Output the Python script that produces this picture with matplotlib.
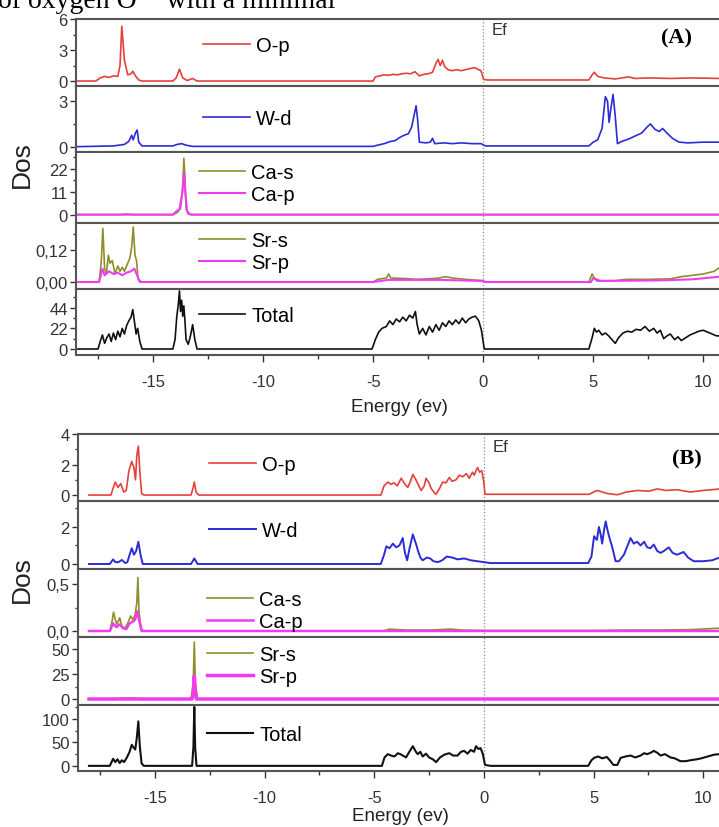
import matplotlib
matplotlib.use('Agg')
import matplotlib.pyplot as plt
from matplotlib.ticker import AutoMinorLocator, MultipleLocator

plt.rcParams['font.family'] = ['Liberation Sans', 'DejaVu Sans']
plt.rcParams['axes.unicode_minus'] = False

# ---------------- data (energy in eV, DOS) ----------------
# panel (A)
a_op_e = [-18.5, -17.6, -17.4, -17.2, -17.0, -16.8, -16.6, -16.5, -16.42, -16.3, -16.15, -16.0, -15.92, -15.8, -15.65, -15.5,
          -14.1, -13.95, -13.8, -13.65, -13.45, -13.2, -13.0,
          -5.0, -4.9, -4.7, -4.5, -4.3, -4.1, -3.9, -3.7, -3.5, -3.3, -3.1, -2.9, -2.7, -2.5, -2.3, -2.15, -2.05, -1.95,
          -1.85, -1.75, -1.6, -1.4, -1.2, -1.0, -0.8, -0.6, -0.4, -0.25, -0.1, 0.02, 0.2,
          4.8, 4.95, 5.05, 5.2, 5.5, 6.0, 6.3, 6.6, 6.9, 7.5, 8.5, 9.5, 10.75]
a_op_v = [0, 0, 0.3, 0.45, 0.35, 0.5, 0.45, 1.5, 5.3, 2.0, 0.6, 0.7, 0.95, 0.5, 0.1, 0,
          0, 0.3, 1.15, 0.3, 0.05, 0.25, 0,
          0, 0.4, 0.5, 0.6, 0.55, 0.65, 0.6, 0.7, 0.75, 0.7, 0.9, 0.5, 0.65, 0.7, 0.85, 1.7, 2.1, 1.5,
          2.0, 1.4, 1.1, 1.0, 1.1, 1.0, 1.1, 1.2, 1.3, 1.15, 1.0, 0.15, 0.1,
          0.1, 0.6, 0.85, 0.45, 0.3, 0.2, 0.3, 0.4, 0.25, 0.3, 0.25, 0.3, 0.25]

a_wd_e = [-18.5, -16.8, -16.3, -16.1, -15.97, -15.9, -15.8, -15.72, -15.65, -15.5, -14.1, -13.9, -13.7, -13.5, -13.2,
          -5.0, -4.8, -4.5, -4.2, -4.0, -3.8, -3.6, -3.4, -3.25, -3.12, -3.05, -2.98, -2.9, -2.6, -2.4, -2.3, -2.2,
          -1.8, -1.4, -1.0, -0.5, -0.1, 0.1,
          4.8, 5.0, 5.2, 5.4, 5.55, 5.65, 5.72, 5.8, 5.9, 6.0, 6.1, 6.3, 6.6, 6.9, 7.2, 7.45, 7.6, 7.8, 8.0, 8.15,
          8.35, 8.6, 8.9, 9.3, 10.0, 10.75]
a_wd_v = [0.0, 0.05, 0.15, 0.35, 0.75, 0.45, 0.9, 1.1, 0.3, 0.05, 0.05, 0.15, 0.2, 0.1, 0.02,
          0.02, 0.1, 0.2, 0.35, 0.4, 0.6, 0.75, 0.85, 1.3, 2.2, 2.7, 1.8, 0.3, 0.25, 0.3, 0.55, 0.2,
          0.25, 0.2, 0.25, 0.2, 0.2, 0.05,
          0.05, 0.3, 0.45, 1.2, 3.3, 3.0, 1.6, 2.5, 3.45, 2.0, 0.2, 0.35, 0.5, 0.7, 0.9, 1.3, 1.5, 1.15, 1.0, 1.2,
          0.9, 0.55, 0.3, 0.25, 0.3, 0.3]

a_cas_e = [-18.5, -16.5, -16.2, -15.9, -14.1, -13.9, -13.75, -13.65, -13.6, -13.55, -13.5, -13.4, -13.2, 10.75]
a_cas_v = [0, 0, 0.3, 0, 0, 1.0, 3.0, 12, 27, 18, 3, 0.3, 0, 0]
a_cap_e = [-18.5, -14.1, -13.95, -13.8, -13.68, -13.6, -13.53, -13.45, -13.3, 10.75]
a_cap_v = [0, 0, 1.5, 2.5, 10, 20, 10, 1.5, 0, 0]

a_srs_e = [-18.5, -17.45, -17.35, -17.28, -17.2, -17.12, -17.03, -16.95, -16.85, -16.73, -16.6, -16.5, -16.4, -16.3,
           -16.15, -16.05, -15.97, -15.9, -15.82, -15.75, -15.68, -15.5,
           -5.0, -4.8, -4.4, -4.3, -4.2, -3.5, -3.0, -2.5, -2.0, -1.7, -1.4, -0.8, 0.0, 0.1,
           4.8, 4.95, 5.05, 5.3, 6.0, 6.5, 7.5, 8.5, 9.0, 9.5, 10.0, 10.5, 10.75]
a_srs_v = [0, 0, 0.08, 0.2, 0.05, 0.03, 0.1, 0.07, 0.08, 0.03, 0.06, 0.04, 0.055, 0.04,
           0.07, 0.09, 0.13, 0.205, 0.1, 0.08, 0.01, 0,
           0, 0.01, 0.015, 0.03, 0.015, 0.013, 0.01, 0.012, 0.015, 0.02, 0.015, 0.01, 0.005, 0,
           0, 0.03, 0.015, 0.005, 0.005, 0.01, 0.01, 0.012, 0.02, 0.025, 0.03, 0.04, 0.055]
a_srp_e = [-18.5, -17.45, -17.3, -17.2, -17.0, -16.8, -16.6, -16.4, -16.2, -16.0, -15.85, -15.7, -15.6,
           -5.0, -4.3, -2.0, 0.0, 0.1, 4.9, 5.0, 5.2, 8.0, 9.5, 10.75]
a_srp_v = [0, 0, 0.05, 0.025, 0.04, 0.03, 0.035, 0.025, 0.035, 0.04, 0.05, 0.02, 0,
           0, 0.008, 0.008, 0.004, 0, 0, 0.015, 0.004, 0.006, 0.01, 0.02]

a_tot_e = [-18.5, -17.5, -17.4, -17.3, -17.2, -17.1, -17.0, -16.9, -16.8, -16.7, -16.6, -16.5, -16.4, -16.3, -16.2,
           -16.1, -16.0, -15.92, -15.85, -15.77, -15.7, -15.6, -15.5,
           -14.1, -14.0, -13.92, -13.85, -13.8, -13.75, -13.7, -13.65, -13.6, -13.55, -13.5, -13.4, -13.3, -13.2,
           -13.1, -13.0,
           -5.05, -4.9, -4.75, -4.6, -4.4, -4.25, -4.1, -3.95, -3.8, -3.65, -3.5, -3.35, -3.2, -3.08, -3.0, -2.9,
           -2.75, -2.6, -2.45, -2.3, -2.15, -2.0, -1.85, -1.7, -1.55, -1.4, -1.25, -1.1, -0.95, -0.8, -0.65, -0.5,
           -0.35, -0.2, -0.08, 0.05,
           4.8, 4.95, 5.05, 5.15, 5.25, 5.4, 5.55, 5.7, 5.85, 6.0, 6.15, 6.35, 6.55, 6.75, 6.95, 7.15, 7.35, 7.55,
           7.75, 7.9, 8.05, 8.2, 8.35, 8.5, 8.7, 8.85, 9.0, 9.2, 9.4, 9.6, 9.8, 10.0, 10.2, 10.4, 10.6, 10.75]
a_tot_v = [0, 0, 8, 15, 6, 12, 16, 8, 17, 10, 19, 13, 22, 16, 25,
           30, 34, 42, 30, 16, 22, 8, 0,
           0, 10, 35, 48, 62, 40, 52, 35, 46, 30, 10, 5, 14, 26,
           10, 0,
           0, 10, 18, 22, 24, 30, 26, 32, 29, 34, 30, 36, 33, 40, 26, 16,
           22, 15, 24, 18, 26, 20, 28, 24, 30, 26, 31, 27, 33, 28, 32, 34,
           35, 30, 20, 0,
           0, 12, 22, 18, 20, 15, 17, 14, 10, 6, 12, 17, 19, 18, 21, 20, 24, 19,
           22, 17, 20, 11, 14, 16, 10, 13, 9, 12, 15, 17, 19, 20, 18, 16, 14, 14]

# panel (B)
b_op_e = [-18.0, -17.0, -16.9, -16.8, -16.68, -16.55, -16.42, -16.3, -16.18, -16.05, -15.95, -15.88, -15.82, -15.75,
          -15.68, -15.6, -15.5, -13.35, -13.25, -13.2, -13.12, -13.0,
          -4.7, -4.55, -4.38, -4.23, -4.1, -3.95, -3.77, -3.62, -3.47, -3.35, -3.24, -3.1, -2.95, -2.86, -2.72, -2.64,
          -2.5, -2.41, -2.26, -2.18, -2.0, -1.88, -1.73, -1.58, -1.45, -1.27, -1.12, -0.97, -0.8, -0.67, -0.52, -0.44,
          -0.36, -0.29, -0.2, -0.1, -0.02, 0.05,
          4.8, 5.0, 5.17, 5.4, 5.62, 6.08, 6.5, 7.0, 7.5, 7.9, 8.3, 8.8, 9.4, 10.0, 10.75]
b_op_v = [0, 0, 0.45, 0.85, 0.5, 0.75, 0.2, 0.3, 1.6, 2.2, 1.8, 1.0, 2.6, 3.2,
          1.5, 0.1, 0, 0, 0.5, 0.85, 0.2, 0,
          0, 0.6, 0.85, 0.7, 0.8, 0.6, 1.1, 0.75, 0.5, 0.9, 1.35, 1.0, 0.55, 0.3, 0.6, 1.1,
          0.8, 0.45, 0.15, 0.05, 0.5, 0.85, 0.8, 1.15, 0.9, 1.0, 1.3, 1.2, 1.4, 1.1, 1.5, 1.3,
          1.6, 1.8, 1.5, 1.6, 1.0, 0.05,
          0.05, 0.2, 0.3, 0.2, 0.1, 0.02, 0.2, 0.3, 0.25, 0.4, 0.3, 0.35, 0.2, 0.3, 0.4]

b_wd_e = [-18.0, -17.05, -16.9, -16.8, -16.65, -16.5, -16.35, -16.25, -16.12, -16.05, -15.95, -15.85, -15.75, -15.65,
          -15.55, -13.35, -13.2, -13.05,
          -4.7, -4.55, -4.45, -4.3, -4.15, -4.0, -3.85, -3.7, -3.6, -3.5, -3.38, -3.24, -3.1, -3.0, -2.9, -2.79,
          -2.6, -2.45, -2.3, -2.1, -1.9, -1.7, -1.45, -1.2, -0.9, -0.6, -0.3, 0.0, 0.3,
          4.75, 4.9, 5.02, 5.15, 5.24, 5.32, 5.39, 5.47, 5.55, 5.62, 5.7, 5.85, 6.0, 6.15, 6.38, 6.55, 6.68, 6.83,
          6.98, 7.14, 7.3, 7.44, 7.59, 7.74, 7.9, 8.05, 8.2, 8.42, 8.6, 8.8, 9.0, 9.1, 9.3, 9.56, 10.0, 10.4, 10.75]
b_wd_v = [0, 0, 0.25, 0.1, 0.1, 0.22, 0.05, 0.1, 0.6, 0.85, 0.5, 0.7, 1.2, 0.5,
          0, 0, 0.3, 0,
          0, 0.5, 0.95, 0.85, 1.1, 0.9, 1.0, 1.4, 0.6, 0.2, 0.9, 1.6, 1.1, 0.7, 0.35, 0.2,
          0.35, 0.3, 0.15, 0.1, 0.2, 0.4, 0.35, 0.25, 0.3, 0.2, 0.15, 0.1, 0.05,
          0.05, 0.4, 1.5, 1.3, 2.0, 1.6, 1.1, 1.8, 2.3, 1.9, 1.5, 0.9, 0.15, 0.15, 0.5, 1.0, 1.4, 1.1,
          1.2, 1.0, 1.2, 0.9, 0.85, 1.05, 0.7, 0.6, 0.7, 0.9, 0.6, 0.5, 0.6, 0.65, 0.35, 0.15, 0.15, 0.2, 0.35]

b_cas_e = [-18.0, -17.05, -16.95, -16.88, -16.8, -16.73, -16.6, -16.5, -16.35, -16.2, -16.1, -16.0, -15.9, -15.82,
           -15.77, -15.72, -15.62, -15.5,
           -4.6, -4.3, -4.0, -3.5, -2.5, -1.5, -1.0, 0.0, 5.0, 6.5, 8.0, 9.5, 10.75]
b_cas_v = [0, 0, 0.1, 0.2, 0.12, 0.07, 0.14, 0.05, 0.03, 0.1, 0.16, 0.12, 0.17, 0.3,
           0.57, 0.2, 0.02, 0,
           0, 0.02, 0.015, 0.01, 0.01, 0.02, 0.01, 0.005, 0.005, 0.01, 0.01, 0.015, 0.03]
b_cap_e = [-18.0, -17.05, -16.9, -16.75, -16.6, -16.45, -16.3, -16.15, -16.0, -15.9, -15.8, -15.7, -15.6, 10.75]
b_cap_v = [0, 0, 0.08, 0.04, 0.07, 0.03, 0.02, 0.08, 0.1, 0.12, 0.21, 0.1, 0, 0]

b_srs_e = [-18.0, -16.9, -16.5, -16.0, -15.7, -15.5, -13.35, -13.25, -13.2, -13.15, -13.05, 10.75]
b_srs_v = [0, 0, 0.8, 0.9, 0.3, 0, 0, 15, 57, 15, 0, 0]
b_srp_e = [-18.0, -13.3, -13.25, -13.2, -13.15, -13.1, 10.75]
b_srp_v = [0, 0, 6, 23, 6, 0, 0]

b_tot_e = [-18.0, -17.05, -16.9, -16.8, -16.7, -16.6, -16.5, -16.4, -16.27, -16.15, -16.05, -15.95, -15.89, -15.82,
           -15.75, -15.68, -15.6, -15.5, -13.3, -13.24, -13.2, -13.16, -13.1,
           -4.65, -4.53, -4.38, -4.23, -4.08, -3.92, -3.77, -3.62, -3.55, -3.4, -3.24, -3.1, -3.02, -2.9, -2.79, -2.64,
           -2.5, -2.33, -2.18, -2.0, -1.8, -1.58, -1.4, -1.2, -1.05, -0.9, -0.75, -0.6, -0.45, -0.36, -0.25, -0.15,
           -0.05, 0.05, 0.3,
           4.75, 4.9, 5.02, 5.2, 5.4, 5.6, 5.77, 5.9, 6.08, 6.23, 6.45, 6.68, 6.9, 7.14, 7.3, 7.44, 7.6, 7.74, 7.9,
           8.05, 8.25, 8.5, 8.7, 8.95, 9.2, 9.41, 9.7, 9.9, 10.2, 10.5, 10.75]
b_tot_v = [0, 0, 15, 8, 14, 6, 12, 8, 18, 30, 45, 38, 35, 60,
           95, 40, 5, 0, 0, 40, 126, 40, 0,
           0, 18, 25, 22, 20, 27, 24, 20, 18, 30, 42, 30, 25, 30, 20, 26,
           18, 14, 8, 18, 24, 27, 22, 22, 30, 32, 26, 34, 30, 42, 36, 38,
           25, 2, 0,
           0, 12, 17, 20, 16, 19, 10, 2, 2, 17, 20, 22, 18, 22, 27, 25, 28, 32, 28,
           22, 25, 18, 16, 10, 10, 12, 14, 16, 20, 24, 25]

# y ticks per subplot
a_yticks = [[0, 3, 6], [0, 3], [0, 11, 22], [0.0, 0.12], [0, 22, 44]]
a_ylabels = [['0', '3', '6'], ['0', '3'], ['0', '11', '22'], ['0,00', '0,12'], ['0', '22', '44']]
b_yticks = [[0, 2, 4], [0, 2], [0.0, 0.5], [0, 25, 50], [0, 50, 100]]
b_ylabels = [['0', '2', '4'], ['0', '2'], ['0,0', '0,5'], ['0', '25', '50'], ['0', '50', '100']]
xticks = [-15, -10, -5, 0, 5, 10]

c_op = '#e5403c'
c_wd = '#2c2cd6'
c_s = '#8f8f2a'
c_p = '#f03cf0'
c_tot = '#111111'

W, H = 719, 828
fig = plt.figure(figsize=(W / 100, H / 100), dpi=100)
fig.patch.set_facecolor('white')


def make_axes(left_px, rows):
    axs = []
    for top, bot in rows:
        ax = fig.add_axes([left_px / W, 1 - bot / H, (722 - left_px) / W, (bot - top) / H])
        axs.append(ax)
    return axs


def style(ax, ylim, yt, yl, last, lpad=8):
    ax.set_xlim(-18.5, 10.85)
    ax.set_ylim(*ylim)
    ax.set_yticks(yt)
    ax.set_yticklabels(yl)
    ax.yaxis.set_minor_locator(AutoMinorLocator(2))
    ax.tick_params(axis='y', which='major', length=4, width=1, labelsize=12, colors='#333333', pad=2)
    ax.tick_params(axis='y', which='minor', length=2.5, width=1, colors='#333333')
    for s in ax.spines.values():
        s.set_linewidth(1.5)
        s.set_color('#555555')
    ax.spines['right'].set_visible(False)
    ax.axvline(0, ls=':', color='#888888', lw=0.9, zorder=0)
    if last:
        ax.set_xticks(xticks)
        ax.xaxis.set_minor_locator(MultipleLocator(2.5))
        ax.tick_params(axis='x', which='major', length=5, width=1, labelsize=12, colors='#333333', pad=9)
        ax.tick_params(axis='x', which='minor', length=3, width=1, colors='#333333')
        ax.set_xlabel('Energy (ev)', fontsize=13.5, color='#222222', labelpad=lpad)
    else:
        ax.set_xticks([])


def leg(ax, x, y):
    ax.legend(loc='center left', bbox_to_anchor=(x, y), frameon=False, fontsize=14.5,
              handlelength=2.3, handletextpad=0.3, labelspacing=0.15, borderpad=0, borderaxespad=0)


# ---------------- panel (A) ----------------
A = make_axes(76, [(20, 87), (87, 153), (153, 224), (224, 290), (290, 356)])
A[0].plot(a_op_e, a_op_v, color=c_op, lw=1.2, label='O-p')
A[1].plot(a_wd_e, a_wd_v, color=c_wd, lw=1.2, label='W-d')
A[2].plot(a_cas_e, a_cas_v, color=c_s, lw=1.2, label='Ca-s')
A[2].plot(a_cap_e, a_cap_v, color=c_p, lw=1.5, label='Ca-p')
A[3].plot(a_srs_e, a_srs_v, color=c_s, lw=1.2, label='Sr-s')
A[3].plot(a_srp_e, a_srp_v, color=c_p, lw=1.5, label='Sr-p')
A[4].plot(a_tot_e, a_tot_v, color=c_tot, lw=1.2, label='Total')
a_ylims = [(-0.48, 6.0), (-0.35, 4.0), (-4, 30), (-0.026, 0.22), (-6.4, 64)]
for i, ax in enumerate(A):
    style(ax, a_ylims[i], a_yticks[i], a_ylabels[i], i == 4, lpad=6)
leg(A[0], 0.197, 0.60)
leg(A[1], 0.197, 0.50)
leg(A[2], 0.19, 0.55)
leg(A[3], 0.19, 0.57)
leg(A[4], 0.19, 0.60)
A[0].text(0.4, 5.7, 'Ef', fontsize=12, color='#333333', va='top')
A[0].text(0.93, 0.72, '(A)', transform=A[0].transAxes, fontsize=16, fontweight='bold',
          family='Liberation Serif', ha='center', va='center')

# ---------------- panel (B) ----------------
B = make_axes(78, [(435, 502), (502, 570), (570, 638), (638, 706), (706, 772)])
B[0].plot(b_op_e, b_op_v, color=c_op, lw=1.2, label='O-p')
B[1].plot(b_wd_e, b_wd_v, color=c_wd, lw=1.4, label='W-d')
B[2].plot(b_cas_e, b_cas_v, color=c_s, lw=1.2, label='Ca-s')
B[2].plot(b_cap_e, b_cap_v, color=c_p, lw=1.8, label='Ca-p')
B[3].plot(b_srs_e, b_srs_v, color=c_s, lw=1.2, label='Sr-s')
B[3].plot(b_srp_e, b_srp_v, color=c_p, lw=2.5, label='Sr-p')
B[4].plot(b_tot_e, b_tot_v, color=c_tot, lw=1.5, label='Total')
b_ylims = [(-0.39, 4.0), (-0.27, 3.4), (-0.064, 0.66), (-6, 62), (-11, 130)]
for i, ax in enumerate(B):
    style(ax, b_ylims[i], b_yticks[i], b_ylabels[i], i == 4, lpad=1)
leg(B[0], 0.204, 0.54)
leg(B[1], 0.204, 0.56)
leg(B[2], 0.2, 0.39)
leg(B[3], 0.2, 0.58)
leg(B[4], 0.2, 0.55)
B[0].text(0.4, 3.7, 'Ef', fontsize=12, color='#333333', va='top')
B[0].text(0.945, 0.63, '(B)', transform=B[0].transAxes, fontsize=16, fontweight='bold',
          family='Liberation Serif', ha='center', va='center')

fig.text(22 / W, 1 - 165 / H, 'Dos', rotation=90, fontsize=19, ha='center', va='center', color='#222222')
fig.text(22 / W, 1 - 580 / H, 'Dos', rotation=90, fontsize=19, ha='center', va='center', color='#222222')
# cropped line of the page text above the figure
fig.text(-2 / W, 1 - 8 / H, 'of oxygen O\u00b2\u207b with a minimal', fontsize=20,
         family=['Liberation Serif', 'DejaVu Serif'], va='baseline', ha='left')

fig.savefig('out.png', dpi=100)
